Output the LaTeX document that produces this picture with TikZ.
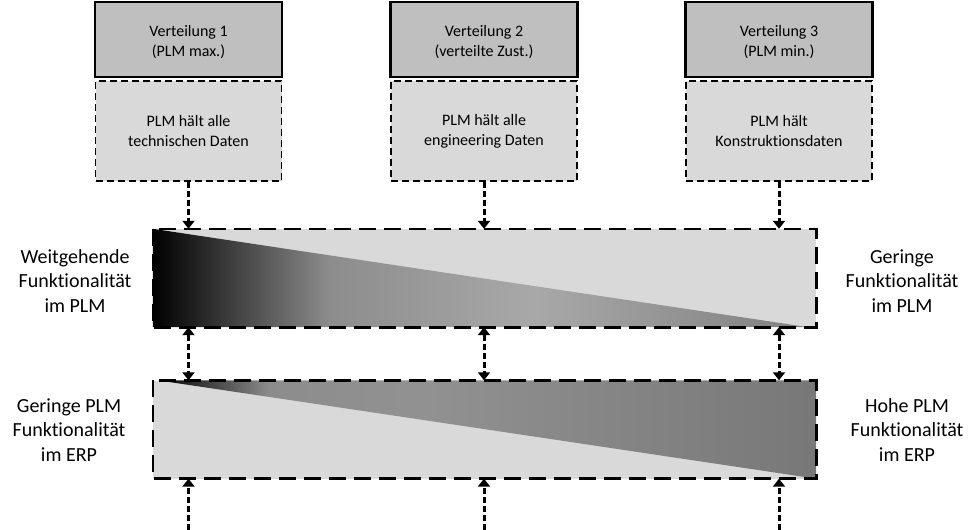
\documentclass[tikz,border=0pt]{standalone}
\usepackage{fontspec}
\setmainfont{Carlito}[Ligatures=NoCommon]
\usetikzlibrary{arrows.meta}

% Verlaeufe fuer die beiden Keile
\pgfdeclarehorizontalshading{plmshade}{100bp}{color(0bp)=(black); color(25bp)=(black);
  color(38.5bp)=(black!45); color(54bp)=(black!34); color(75bp)=(black!50); color(100bp)=(black!50)}
\pgfdeclarehorizontalshading{erpshade}{100bp}{color(0bp)=(black); color(25bp)=(black);
  color(33.5bp)=(black!45); color(45bp)=(black!43); color(75bp)=(black!53); color(100bp)=(black!53)}

\begin{document}
\begin{tikzpicture}[x=1pt,y=-1pt,
  topbox/.style={draw, line width=2.5pt, fill=black!25, minimum width=187pt, minimum height=75pt,
    inner sep=0pt, align=center, font=\fontsize{16}{20}\selectfont},
  databox/.style={draw, line width=1.2pt, dash pattern=on 7pt off 4pt, fill=black!15,
    minimum width=186pt, minimum height=100pt, inner sep=0pt, align=center,
    font=\fontsize{16}{20}\selectfont},
  band/.style={fill=black!15, minimum width=663pt, minimum height=98pt, inner sep=0pt},
  bandline/.style={line width=2.6pt, dash pattern=on 17pt off 8pt},
  flowarrow/.style={line width=3pt, dash pattern=on 6pt off 3pt, >={Triangle[width=12pt,length=8pt]}},
  sidelabel/.style={align=center, inner sep=0pt, font=\fontsize{20}{24.5}\selectfont}]
  \useasboundingbox (0,0) rectangle (980,530);

  % Verteilungen
  \node[topbox] (v1) at (188.5,39.5) {\rule{0pt}{16pt}Verteilung 1\\(PLM max.)};
  \node[topbox] (v2) at (484,39.5) {\rule{0pt}{16pt}Verteilung 2\\(verteilte Zust.)};
  \node[topbox] (v3) at (779,39.5) {\rule{0pt}{16pt}Verteilung 3\\(PLM min.)};

  \node[databox] (d1) at (188.5,131) {PLM hält alle\\technischen Daten};
  \node[databox] (d2) at (484,131) {PLM hält alle\\engineering Daten};
  \node[databox] (d3) at (779,131) {PLM hält\\Konstruktionsdaten};

  % Baender PLM / ERP
  \node[band] (plm) at (484.5,278) {};
  \shade[shading=plmshade] (plm.north west) -- (plm.south west) -- ([xshift=-8pt]plm.south east) -- cycle;
  \draw[bandline] (plm.north west) rectangle (plm.south east);

  \node[band] (erp) at (484.5,429.5) {};
  \shade[shading=erpshade] ([xshift=5pt]erp.north west) -- (erp.north east) -- (erp.south east) -- cycle;
  \draw[bandline] (erp.north west) rectangle (erp.south east);

  % Beschriftungen
  \node[sidelabel] (lplm) at (75,281) {Weitgehende\\Funktionalität\\im PLM};
  \node[sidelabel] (rplm) at (902,281) {Geringe\\Funktionalität\\im PLM};
  \node[sidelabel] (lerp) at (69,430) {Geringe PLM\\Funktionalität\\im ERP};
  \node[sidelabel] (rerp) at (907,430) {Hohe PLM\\Funktionalität\\im ERP};

  % Pfeile
  \coordinate (base) at (0,530);
  \foreach \i in {1,2,3} {
    \draw[flowarrow,->] (d\i.south) -- (d\i.south |- plm.north);
    \draw[flowarrow,<->] (plm.south -| d\i) -- (erp.north -| d\i);
    \draw[flowarrow,->] (base -| d\i) -- (erp.south -| d\i);
  }
\end{tikzpicture}
\end{document}
